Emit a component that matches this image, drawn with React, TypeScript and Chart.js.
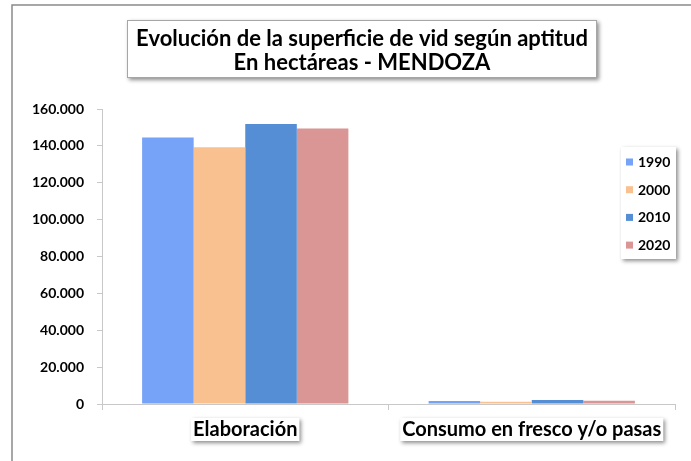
import React, { useEffect, useRef } from "react";
import { Chart, registerables } from "chart.js";

Chart.register(...registerables);

const categories = ["Elaboración", "Consumo en fresco y/o pasas"];
const years = ["1990", "2000", "2010", "2020"];
const values1990 = [144500, 1600];
const values2000 = [139300, 1250];
const values2010 = [151900, 2200];
const values2020 = [149400, 1800];
const yTicks = [0, 20000, 40000, 60000, 80000, 100000, 120000, 140000, 160000];
const titleLines = ["Evolución de la superficie de vid según aptitud", "En hectáreas - MENDOZA"];

const colors = ["#76A2F7", "#F9C18F", "#558ED5", "#D99694"];
const FONT = "Lato, 'DejaVu Sans', sans-serif";

const fmt = (v: number) => String(v).replace(/\B(?=(\d{3})+(?!\d))/g, ".");

function shadowBox(ctx: CanvasRenderingContext2D, x: number, y: number, w: number, h: number, border?: string) {
  ctx.save();
  ctx.shadowColor = "rgba(0,0,0,0.45)";
  ctx.shadowBlur = 4;
  ctx.shadowOffsetX = 2;
  ctx.shadowOffsetY = 2;
  ctx.fillStyle = "#ffffff";
  ctx.fillRect(x, y, w, h);
  ctx.restore();
  if (border) {
    ctx.save();
    ctx.strokeStyle = border;
    ctx.lineWidth = 1;
    ctx.strokeRect(x + 0.5, y + 0.5, w - 1, h - 1);
    ctx.restore();
  }
}

const decor = {
  id: "decor",
  beforeDraw(chart: any) {
    const ctx = chart.ctx as CanvasRenderingContext2D;
    ctx.save();
    ctx.fillStyle = "#ffffff";
    ctx.fillRect(0, 0, chart.width, chart.height);
    ctx.strokeStyle = "#8a8a8a";
    ctx.lineWidth = 1.5;
    ctx.beginPath();
    ctx.moveTo(12, chart.height);
    ctx.lineTo(12, 5);
    ctx.lineTo(chart.width, 5);
    ctx.stroke();
    ctx.restore();
  },
  afterDraw(chart: any) {
    const ctx = chart.ctx as CanvasRenderingContext2D;
    // title
    shadowBox(ctx, 127, 20, 470, 58, "#a6a6a6");
    ctx.save();
    ctx.fillStyle = "#000";
    ctx.font = `bold 22px ${FONT}`;
    ctx.textAlign = "center";
    ctx.textBaseline = "middle";
    ctx.fillText(titleLines[0], 362, 39);
    ctx.fillText(titleLines[1], 362, 63);
    ctx.restore();

    // category labels
    const xs = chart.scales.x;
    ctx.save();
    ctx.font = `bold 20px ${FONT}`;
    (chart.data.labels as string[]).forEach((lab, i) => {
      const cx = xs.getPixelForValue(i);
      const w = ctx.measureText(lab).width + 4;
      shadowBox(ctx, cx - w / 2, 418, w, 23);
      ctx.fillStyle = "#000";
      ctx.textAlign = "center";
      ctx.textBaseline = "middle";
      ctx.fillText(lab, cx, 430);
    });
    ctx.restore();

    // legend
    shadowBox(ctx, 621, 147, 55, 112);
    ctx.save();
    ctx.font = `bold 14px ${FONT}`;
    ctx.textBaseline = "middle";
    ctx.textAlign = "left";
    chart.data.datasets.forEach((ds: any, i: number) => {
      const cy = 162 + i * 27.7;
      ctx.fillStyle = ds.backgroundColor;
      ctx.fillRect(626, cy - 3.5, 7, 7);
      ctx.fillStyle = "#000";
      ctx.fillText(ds.label, 638, cy + 0.5);
    });
    ctx.restore();
  },
};

export default function App() {
  const ref = useRef<HTMLCanvasElement>(null);
  useEffect(() => {
    const seriesValues = [values1990, values2000, values2010, values2020];
    const chart = new Chart(ref.current!, {
      type: "bar",
      data: {
        labels: categories,
        datasets: years.map((y, i) => ({
          label: y,
          data: seriesValues[i],
          backgroundColor: colors[i],
          borderWidth: 0,
          categoryPercentage: 0.72,
          barPercentage: 1,
        })),
      },
      options: {
        responsive: false,
        animation: false,
        devicePixelRatio: 1,
        layout: { padding: { left: 0, top: 109, right: 16, bottom: 0 } },
        plugins: { legend: { display: false }, title: { display: false }, tooltip: { enabled: false } },
        scales: {
          x: {
            grid: { drawOnChartArea: false, drawTicks: true, tickLength: 6, color: "#c8c8c8", offset: true },
            border: { color: "#c8c8c8" },
            ticks: { display: false },
            afterFit: (s: any) => { s.height = 57; },
          },
          y: {
            min: 0,
            max: 160000,
            afterBuildTicks: (s: any) => { s.ticks = yTicks.map((v) => ({ value: v })); },
            ticks: {
              padding: 13,
              color: "#000",
              font: { family: FONT, size: 14, weight: "bold" },
              callback: (v: any) => fmt(Number(v)),
            },
            grid: { drawOnChartArea: false, drawTicks: true, tickLength: 5, color: "#c8c8c8" },
            border: { color: "#c8c8c8" },
            afterFit: (s: any) => { s.width = 102; },
          },
        },
      },
      plugins: [decor],
    });
    return () => chart.destroy();
  }, []);
  return (
    <div style={{ position: "absolute", left: 0, top: 0, width: 691, height: 461 }}>
      <canvas ref={ref} width={691} height={461} style={{ display: "block" }} />
    </div>
  );
}
